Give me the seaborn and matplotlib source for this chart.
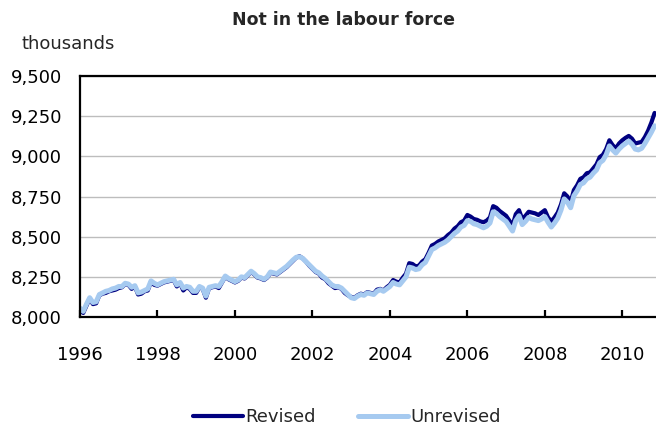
import numpy as np
import pandas as pd
import matplotlib
matplotlib.use("Agg")
import matplotlib.pyplot as plt
import seaborn as sns

revised = [
    8045, 8025, 8070, 8115, 8080, 8085, 8135, 8145, 8150, 8160, 8165, 8170,  # 1996
    8180, 8185, 8205, 8200, 8175, 8190, 8140, 8145, 8160, 8165, 8220, 8200,  # 1997
    8195, 8205, 8215, 8220, 8225, 8230, 8190, 8210, 8165, 8185, 8175, 8150,  # 1998
    8150, 8185, 8175, 8120, 8180, 8185, 8190, 8180, 8215, 8250, 8235, 8225,  # 1999
    8215, 8225, 8245, 8240, 8260, 8280, 8265, 8245, 8240, 8230, 8245, 8275,  # 2000
    8270, 8265, 8280, 8295, 8310, 8330, 8350, 8370, 8378, 8365, 8345, 8320,  # 2001
    8300, 8280, 8270, 8245, 8235, 8210, 8195, 8180, 8185, 8175, 8150, 8135,  # 2002
    8125, 8120, 8135, 8145, 8140, 8155, 8150, 8145, 8170, 8175, 8165, 8185,  # 2003
    8200, 8230, 8220, 8215, 8245, 8270, 8335, 8330, 8315, 8320, 8345, 8360,  # 2004
    8400, 8445, 8455, 8470, 8480, 8490, 8510, 8525, 8550, 8565, 8590, 8600,  # 2005
    8635, 8625, 8610, 8605, 8595, 8590, 8600, 8620, 8690, 8680, 8660, 8645,  # 2006
    8630, 8600, 8570, 8640, 8665, 8610, 8630, 8655, 8650, 8645, 8635, 8650,  # 2007
    8665, 8620, 8595, 8620, 8650, 8700, 8770, 8750, 8715, 8790, 8820, 8860,  # 2008
    8870, 8895, 8900, 8925, 8950, 8995, 9010, 9045, 9100, 9070, 9050, 9080,  # 2009
    9100, 9115, 9127, 9110, 9080, 9085, 9090, 9120, 9160, 9210, 9270,        # 2010
]

unrevised = [
    8055, 8035, 8080, 8120, 8090, 8095, 8140, 8150, 8160, 8165, 8175, 8180,  # 1996
    8190, 8190, 8210, 8205, 8185, 8195, 8150, 8155, 8165, 8175, 8225, 8210,  # 1997
    8200, 8210, 8220, 8225, 8230, 8235, 8200, 8215, 8180, 8190, 8185, 8160,  # 1998
    8160, 8190, 8180, 8130, 8185, 8190, 8195, 8190, 8220, 8255, 8240, 8230,  # 1999
    8220, 8230, 8250, 8245, 8265, 8285, 8270, 8250, 8245, 8235, 8250, 8280,  # 2000
    8275, 8270, 8285, 8300, 8315, 8335, 8355, 8372, 8375, 8365, 8345, 8325,  # 2001
    8305, 8285, 8275, 8255, 8240, 8220, 8200, 8190, 8190, 8180, 8160, 8140,  # 2002
    8120, 8115, 8130, 8140, 8135, 8150, 8145, 8140, 8160, 8170, 8160, 8175,  # 2003
    8190, 8215, 8205, 8200, 8225, 8250, 8310, 8305, 8295, 8300, 8325, 8340,  # 2004
    8380, 8420, 8430, 8445, 8455, 8465, 8480, 8500, 8520, 8535, 8560, 8570,  # 2005
    8600, 8595, 8580, 8575, 8565, 8555, 8565, 8585, 8655, 8645, 8625, 8610,  # 2006
    8595, 8565, 8535, 8600, 8630, 8575, 8595, 8620, 8610, 8605, 8600, 8610,  # 2007
    8625, 8590, 8560, 8585, 8615, 8665, 8735, 8715, 8680, 8755, 8785, 8825,  # 2008
    8835, 8860, 8870, 8895, 8915, 8960, 8975, 9010, 9065, 9040, 9020, 9045,  # 2009
    9065, 9080, 9095, 9075, 9045, 9040, 9050, 9080, 9115, 9150, 9190,        # 2010
]

series_names = ["Revised", "Unrevised"]
series_colors = ["#000080", "#A6CAF0"]
y_ticks = [8000, 8250, 8500, 8750, 9000, 9250, 9500]
x_ticks = [1996, 1998, 2000, 2002, 2004, 2006, 2008, 2010]

n = len(revised)
t = 1996 + np.arange(n) / 12.0
df = pd.concat([
    pd.DataFrame({"t": t, "value": revised, "series": "Revised"}),
    pd.DataFrame({"t": t, "value": unrevised, "series": "Unrevised"}),
])

sns.set_style("white")
plt.rcParams["font.family"] = ["DejaVu Sans"]

fig = plt.figure(figsize=(6.56, 4.32), dpi=100)
ax = fig.add_axes([80 / 656, 1 - 317 / 432, 1 - 80 / 656, (317 - 76) / 432])

for name, col, lw in zip(series_names, series_colors, [3.0, 3.6]):
    sns.lineplot(data=df[df["series"] == name], x="t", y="value", color=col,
                 linewidth=lw, ax=ax, label=name, legend=False)

ax.set_xlim(1996, 2010.87)
ax.set_ylim(8000, 9500)
ax.set_yticks(y_ticks)
ax.set_yticklabels([f"{v:,}" for v in y_ticks])
ax.set_xticks(x_ticks)
ax.set_xticklabels([str(v) for v in x_ticks])
ax.set_xlabel("")
ax.set_ylabel("")
ax.yaxis.grid(True, color="#bdbdbd", linewidth=1.0)
ax.xaxis.grid(False)
ax.set_axisbelow(True)
for s in ["left", "top", "bottom"]:
    ax.spines[s].set_visible(True)
    ax.spines[s].set_color("black")
    ax.spines[s].set_linewidth(1.6)
ax.spines["right"].set_visible(False)
ax.tick_params(axis="y", length=0, pad=13, labelsize=13, colors="black")
ax.tick_params(axis="x", direction="in", length=5, width=1.6, pad=21,
               labelsize=13, colors="black", bottom=True)

fig.text(344 / 656, 1 - 20 / 432, "Not in the labour force", ha="center",
         va="center", fontsize=12.5, fontweight="bold")
fig.text(22 / 656, 1 - 44 / 432, "thousands", ha="left", va="center", fontsize=13)

handles, labels = ax.get_legend_handles_labels()
fig.legend(handles, labels, loc="center", bbox_to_anchor=(347 / 656, 1 - 417 / 432),
           ncol=2, frameon=False, fontsize=13, handlelength=2.77,
           handletextpad=0.17, columnspacing=2.3)

fig.savefig("out.png", dpi=100)
